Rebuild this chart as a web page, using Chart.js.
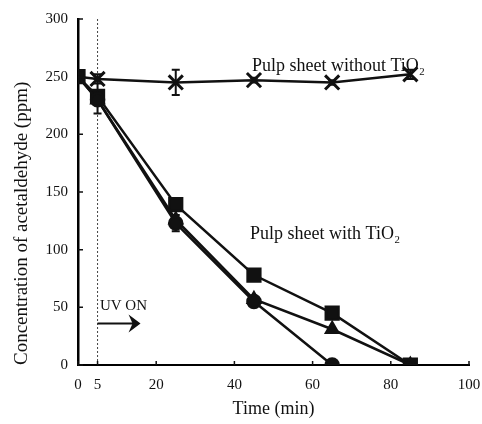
<!DOCTYPE html>
<html>
<head>
<meta charset="utf-8">
<script src="https://cdn.jsdelivr.net/npm/chart.js@4/dist/chart.umd.min.js"></script>
<style>
  html, body { margin: 0; padding: 0; background: #fff; }
  #wrap { width: 482px; height: 424px; position: relative; }
</style>
</head>
<body>
<div id="wrap"><canvas id="graf"></canvas></div>
<script>
// Data
const casy = [0, 5, 25, 45, 65, 85];
const bezTiO2 = [250, 248, 245, 247, 245, 252];
const bezTiO2Chyba = [0, 4, 11, 2, 2, 4];
const ctverce = [250, 233, 139, 78, 45, 0];
const ctverceChyba = [0, 15, 0, 0, 0, 0];
const trojuhelniky = [250, 230, 126, 57, 31, 0];
const kruhy = [250, 230, 123, 55, 0];
const kruhyChyba = [0, 0, 7, 4, 0];
const xTicks = [0, 5, 20, 40, 60, 80, 100];
const yTicks = [0, 50, 100, 150, 200, 250, 300];

const font = "'Liberation Serif', 'DejaVu Serif', serif";
const cerna = '#111';

function body(hodnoty) {
    return hodnoty.map((v, i) => ({ x: casy[i], y: v }));
}

// Plugin: chybové úsečky, tečkovaná čára UV, šipka, popisky a vnitřní značky os
const kresleni = {
    id: 'kresleni',
    beforeDatasetsDraw(chart) {
        const { ctx, chartArea, scales } = chart;
        const x = scales.x, y = scales.y;
        ctx.save();
        // tečkovaná svislá čára v čase 5 min
        ctx.strokeStyle = '#444';
        ctx.lineWidth = 1;
        ctx.setLineDash([2, 2]);
        ctx.beginPath();
        ctx.moveTo(x.getPixelForValue(5), chartArea.top);
        ctx.lineTo(x.getPixelForValue(5), chartArea.bottom);
        ctx.stroke();
        ctx.setLineDash([]);

        // chybové úsečky
        ctx.strokeStyle = cerna;
        ctx.lineWidth = 2;
        const chyby = [[bezTiO2, bezTiO2Chyba], [ctverce, ctverceChyba], [kruhy, kruhyChyba]];
        chyby.forEach(([hodnoty, err]) => {
            hodnoty.forEach((v, i) => {
                if (!err[i]) return;
                const px = x.getPixelForValue(casy[i]);
                const top = y.getPixelForValue(v + err[i]);
                const bot = y.getPixelForValue(v - err[i]);
                ctx.beginPath();
                ctx.moveTo(px, top); ctx.lineTo(px, bot);
                ctx.moveTo(px - 4, top); ctx.lineTo(px + 4, top);
                ctx.moveTo(px - 4, bot); ctx.lineTo(px + 4, bot);
                ctx.stroke();
            });
        });

        // značky os dovnitř
        ctx.lineWidth = 1.5;
        ctx.beginPath();
        yTicks.forEach(t => {
            const py = y.getPixelForValue(t);
            ctx.moveTo(chartArea.left, py);
            ctx.lineTo(chartArea.left + 5, py);
        });
        xTicks.forEach(t => {
            const px = x.getPixelForValue(t);
            ctx.moveTo(px, chartArea.bottom);
            ctx.lineTo(px, chartArea.bottom - 4);
        });
        ctx.stroke();
        ctx.restore();
    },
    afterDraw(chart) {
        const { ctx, scales } = chart;
        const x = scales.x, y = scales.y;
        ctx.save();
        ctx.fillStyle = cerna;
        ctx.textBaseline = 'middle';
        ctx.font = '18px ' + font;
        ctx.fillText('Pulp sheet without TiO\u2082', x.getPixelForValue(44.5), y.getPixelForValue(259));
        ctx.fillText('Pulp sheet with TiO\u2082', x.getPixelForValue(44), y.getPixelForValue(113));
        ctx.font = '15px ' + font;
        ctx.fillText('UV ON', x.getPixelForValue(5.6), y.getPixelForValue(51));

        // šipka UV ON
        const ay = y.getPixelForValue(36);
        const ax0 = x.getPixelForValue(5);
        const ax1 = x.getPixelForValue(16);
        ctx.strokeStyle = cerna;
        ctx.lineWidth = 2;
        ctx.beginPath();
        ctx.moveTo(ax0, ay);
        ctx.lineTo(ax1 - 6, ay);
        ctx.stroke();
        ctx.beginPath();
        ctx.moveTo(ax1, ay);
        ctx.lineTo(ax1 - 12, ay - 9);
        ctx.lineTo(ax1 - 8, ay);
        ctx.lineTo(ax1 - 12, ay + 9);
        ctx.closePath();
        ctx.fill();
        ctx.restore();
    }
};

const ctx = document.getElementById('graf').getContext('2d');
new Chart(ctx, {
    type: 'line',
    data: {
        datasets: [
            {
                label: 'Pulp sheet without TiO2',
                data: body(bezTiO2),
                borderColor: cerna,
                backgroundColor: cerna,
                borderWidth: 2.5,
                pointStyle: 'crossRot',
                pointRadius: c => c.dataIndex === 0 ? 0 : 10,
                pointBorderWidth: 3,
                tension: 0
            },
            {
                label: 'Kruhy',
                data: body(kruhy),
                borderColor: cerna,
                backgroundColor: cerna,
                borderWidth: 2.5,
                pointStyle: 'circle',
                pointRadius: c => c.dataIndex === 0 ? 0 : 6.5,
                tension: 0
            },
            {
                label: 'Trojúhelníky',
                data: body(trojuhelniky),
                borderColor: cerna,
                backgroundColor: cerna,
                borderWidth: 2.5,
                pointStyle: 'triangle',
                pointRadius: c => c.dataIndex === 0 ? 0 : 7,
                tension: 0
            },
            {
                label: 'Čtverce',
                data: body(ctverce),
                borderColor: cerna,
                backgroundColor: cerna,
                borderWidth: 2.5,
                pointStyle: 'rect',
                pointRadius: 9,
                tension: 0
            }
        ]
    },
    options: {
        responsive: true,
        maintainAspectRatio: false,
        animation: false,
        layout: { padding: { left: 0, right: 12, top: 11, bottom: 0 } },
        plugins: {
            legend: { display: false },
            tooltip: { enabled: false }
        },
        scales: {
            x: {
                type: 'linear',
                min: 0,
                max: 100,
                afterBuildTicks: s => { s.ticks = xTicks.map(v => ({ value: v })); },
                afterFit: s => { s.height = 59; s.paddingRight = 0; s.paddingLeft = 0; },
                grid: { display: false, drawTicks: false },
                border: { color: '#000', width: 2 },
                ticks: {
                    color: cerna,
                    padding: 11,
                    maxRotation: 0,
                    autoSkip: false,
                    font: { family: font, size: 15 }
                },
                title: {
                    display: true,
                    text: 'Time (min)',
                    color: cerna,
                    padding: { top: 4 },
                    font: { family: font, size: 18 }
                }
            },
            y: {
                min: 0,
                max: 300,
                afterBuildTicks: s => { s.ticks = yTicks.map(v => ({ value: v })); },
                afterFit: s => { s.width = 78; },
                grid: { display: false, drawTicks: false },
                border: { color: '#000', width: 2.5 },
                ticks: {
                    color: cerna,
                    padding: 10,
                    font: { family: font, size: 15 }
                },
                title: {
                    display: true,
                    text: 'Concentration of acetaldehyde (ppm)',
                    color: cerna,
                    align: 'start',
                    padding: { top: 11, bottom: 0 },
                    font: { family: font, size: 19 }
                }
            }
        }
    },
    plugins: [kresleni]
});
</script>
</body>
</html>
